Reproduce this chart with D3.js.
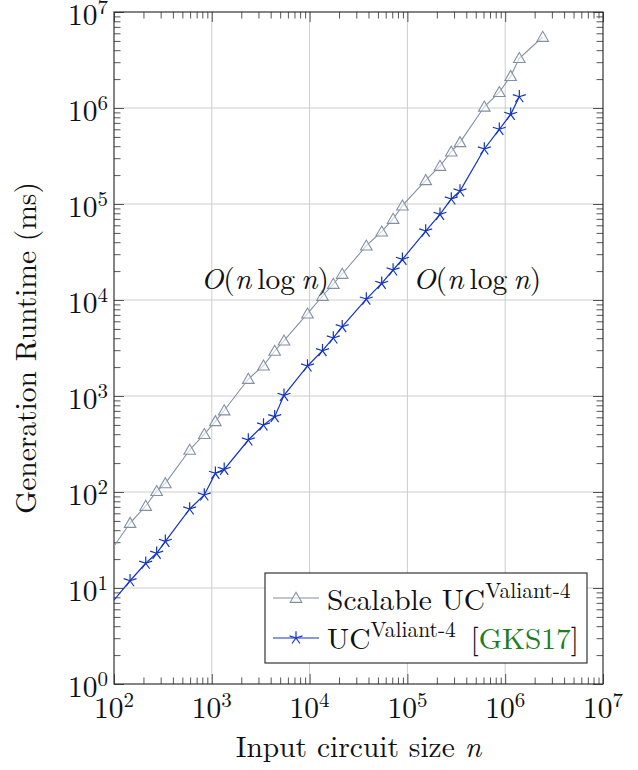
<!DOCTYPE html>
<html><head><meta charset="utf-8">
<script src="https://cdn.jsdelivr.net/npm/d3@7"></script>
</head>
<body style="margin:0;background:#fff"><svg id="c" width="638" height="770"></svg>
<script>
// ---- data ----
const circuitSizes = [83, 146, 211, 273, 335, 594, 838, 1088, 1339, 2362, 3378, 4397, 5473, 9517, 13547, 17475, 21544, 37990, 54600, 71430, 88900, 153800, 215400, 281000, 345000, 611400, 870500, 1138000, 1394000, 2417000];
const scalableRuntime = [20.8, 47.5, 71.5, 102, 123, 274, 400, 545, 706, 1503, 2070, 2944, 3770, 7200, 11010, 14680, 18660, 36800, 51470, 69800, 96000, 176500, 248800, 350600, 439300, 1030000, 1460000, 2150000, 3300000, 5490000];
const gks17Runtime = [5.94, 11.9, 18.1, 23.0, 30.6, 66.5, 93.1, 156.6, 172, 348, 499, 609, 1016, 2054, 2964, 4020, 5270, 10230, 14920, 20540, 26540, 52300, 78100, 112800, 136600, 374000, 600000, 859000, 1310000];
const xTickExps = [2, 3, 4, 5, 6, 7];
const yTickExps = [0, 1, 2, 3, 4, 5, 6, 7];
const seriesNames = ["Scalable UC", "UC"];
const supText = "Valiant-4";
const xLabel = "Input circuit size ";
const yLabel = "Generation Runtime (ms)";
const noteAnchors = [[770, 13000], [114000, 13000]];

// ---- layout ----
const FONT = "'Latin Modern Roman','Liberation Serif',serif";
const L = 114, R = 603, T = 12, B = 684;
const grayC = "#8190a3", blueC = "#1233c4", greenC = "#1e7d1e";
const FS = 29.5, SUP = 21;

const svg = d3.select("#c");
const x = d3.scaleLog().domain([1e2, 1e7]).range([L, R]);
const y = d3.scaleLog().domain([1e0, 1e7]).range([B, T]);

const xMajor = xTickExps.map(e => Math.pow(10, e));
const yMajor = yTickExps.map(e => Math.pow(10, e));
const minorOf = (lo, hi) => { const a = []; for (let e = lo; e < hi; e++) for (let m = 2; m <= 9; m++) a.push(m * Math.pow(10, e)); return a; };
const xMinor = minorOf(2, 7), yMinor = minorOf(0, 7);

svg.append("defs").append("clipPath").attr("id", "clip")
  .append("rect").attr("x", L).attr("y", T).attr("width", R - L).attr("height", B - T);

// grid
const grid = svg.append("g");
grid.selectAll(".gx").data(xMajor.slice(1, -1)).enter().append("line")
  .attr("x1", d => x(d)).attr("x2", d => x(d)).attr("y1", T).attr("y2", B)
  .attr("stroke", "#cdcdcd").attr("stroke-width", 1);
grid.selectAll(".gy").data(yMajor.slice(1, -1)).enter().append("line")
  .attr("y1", d => y(d)).attr("y2", d => y(d)).attr("x1", L).attr("x2", R)
  .attr("stroke", "#cdcdcd").attr("stroke-width", 1);

// ticks via d3 axes (inward)
function tickAxis(gen, scale, vals, size, tr) {
  const g = svg.append("g").attr("transform", tr)
    .call(gen(scale).tickValues(vals).tickSizeInner(size).tickSizeOuter(0).tickFormat(""));
  g.select(".domain").remove();
  g.selectAll("line").attr("stroke", "#555").attr("stroke-width", 1);
}
tickAxis(d3.axisBottom, x, xMinor, -6.5, `translate(0,${B})`);
tickAxis(d3.axisBottom, x, xMajor, -10, `translate(0,${B})`);
tickAxis(d3.axisTop, x, xMinor, -6.5, `translate(0,${T})`);
tickAxis(d3.axisTop, x, xMajor, -10, `translate(0,${T})`);
tickAxis(d3.axisLeft, y, yMinor, -6.5, `translate(${L},0)`);
tickAxis(d3.axisLeft, y, yMajor, -10, `translate(${L},0)`);
tickAxis(d3.axisRight, y, yMinor, -6.5, `translate(${R},0)`);
tickAxis(d3.axisRight, y, yMajor, -10, `translate(${R},0)`);

// frame
svg.append("rect").attr("x", L).attr("y", T).attr("width", R - L).attr("height", B - T)
  .attr("fill", "none").attr("stroke", "#222").attr("stroke-width", 1.1);

function txt(parent) {
  return parent.append("text").style("font-family", FONT).style("font-size", FS + "px").attr("fill", "#111");
}
function sup(sel, s, dy) { return sel.append("tspan").style("font-size", s + "px").attr("dy", dy); }

// tick labels
function powLabel(sel, e) {
  sel.append("tspan").text("10");
  sup(sel, SUP, -11).text(e);
}
xTickExps.forEach(e => {
  const t = txt(svg).attr("x", x(Math.pow(10, e))).attr("y", B + 34).attr("text-anchor", "middle");
  powLabel(t, e);
});
yTickExps.forEach(e => {
  const t = txt(svg).attr("x", L - 6).attr("y", y(Math.pow(10, e)) + 13).attr("text-anchor", "end");
  powLabel(t, e);
});

// axis labels
const xl = txt(svg).attr("x", (L + R) / 2).attr("y", 757).attr("text-anchor", "middle");
xl.append("tspan").text(xLabel);
xl.append("tspan").style("font-style", "italic").text("n");
txt(svg).attr("transform", `translate(36,${(T + B) / 2}) rotate(-90)`)
  .attr("text-anchor", "middle").text(yLabel);

// series
const plot = svg.append("g").attr("clip-path", "url(#clip)");
const line = d3.line().x(d => x(d[0])).y(d => y(d[1]));
const grayData = circuitSizes.map((n, i) => [n, scalableRuntime[i]]);
const blueData = gks17Runtime.map((v, i) => [circuitSizes[i], v]);

plot.append("path").datum(grayData).attr("d", line).attr("fill", "none").attr("stroke", grayC).attr("stroke-width", 1.1);
plot.append("path").datum(blueData).attr("d", line).attr("fill", "none").attr("stroke", blueC).attr("stroke-width", 1.2);

const tri = d3.symbol().type(d3.symbolTriangle).size(58);
function drawTri(g, cx, cy) {
  g.append("path").attr("d", tri()).attr("transform", `translate(${cx},${cy + 1})`)
    .attr("fill", "#fff").attr("fill-opacity", 0.6).attr("stroke", grayC).attr("stroke-width", 1.1);
}
function drawStar(g, cx, cy) {
  const r = 6.8;
  let d = "";
  for (let k = 0; k < 5; k++) {
    const a = (90 + k * 72) * Math.PI / 180;
    d += `M${cx},${cy}L${cx + r * Math.cos(a)},${cy - r * Math.sin(a)}`;
  }
  g.append("path").attr("d", d).attr("stroke", blueC).attr("stroke-width", 1.2).attr("fill", "none");
}
const marks = svg.append("g").attr("clip-path", "url(#clip)");
grayData.forEach(d => drawTri(marks, x(d[0]), y(d[1])));
blueData.forEach(d => drawStar(marks, x(d[0]), y(d[1])));

// annotations O(n log n)
noteAnchors.forEach(p => {
  const t = txt(svg).attr("x", x(p[0])).attr("y", y(p[1]));
  t.append("tspan").style("font-style", "italic").text("O");
  t.append("tspan").text("(");
  t.append("tspan").style("font-style", "italic").text("n");
  t.append("tspan").text("\u2009log\u2009");
  t.append("tspan").style("font-style", "italic").text("n");
  t.append("tspan").text(")");
});

// legend
const lg = svg.append("g");
lg.append("rect").attr("x", 265).attr("y", 573).attr("width", 322).attr("height", 90)
  .attr("fill", "#fff").attr("stroke", "#222").attr("stroke-width", 1.1);
const rows = [598, 638];
lg.append("line").attr("x1", 273).attr("x2", 319).attr("y1", rows[0]).attr("y2", rows[0]).attr("stroke", grayC).attr("stroke-width", 1.1);
drawTri(lg, 296, rows[0]);
lg.append("line").attr("x1", 273).attr("x2", 319).attr("y1", rows[1]).attr("y2", rows[1]).attr("stroke", blueC).attr("stroke-width", 1.2);
drawStar(lg, 296, rows[1]);
const t1 = txt(lg).attr("x", 327).attr("y", 610);
t1.append("tspan").text(seriesNames[0]);
sup(t1, SUP + 0.5, -12).text(supText);
const t2 = txt(lg).attr("x", 327).attr("y", 649);
t2.append("tspan").text(seriesNames[1]);
sup(t2, SUP + 0.5, -12).text(supText);
t2.append("tspan").attr("dy", 12).text("\u2002");
t2.append("tspan").text("[");
t2.append("tspan").attr("fill", greenC).text("GKS17");
t2.append("tspan").text("]");
</script></body></html>
